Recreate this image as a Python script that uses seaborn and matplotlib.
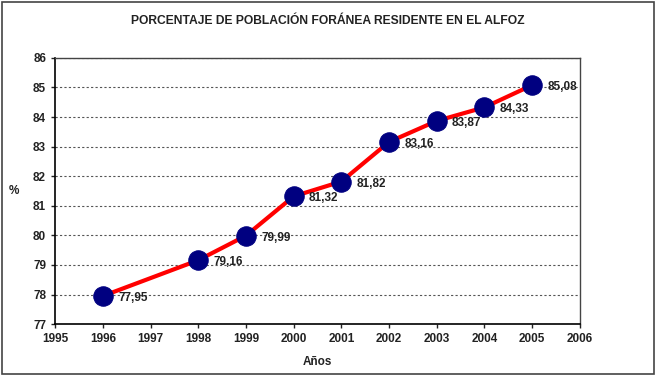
import matplotlib.pyplot as plt
import seaborn as sns
import pandas as pd
from matplotlib.patches import Rectangle

years = [1996, 1998, 1999, 2000, 2001, 2002, 2003, 2004, 2005]
values = [77.95, 79.16, 79.99, 81.32, 81.82, 83.16, 83.87, 84.33, 85.08]
labels = ["77,95", "79,16", "79,99", "81,32", "81,82", "83,16", "83,87", "84,33", "85,08"]

df = pd.DataFrame({"year": years, "value": values})

sns.set_theme(style="white")
plt.rcParams["font.family"] = ["Liberation Sans", "DejaVu Sans"]

fig = plt.figure(figsize=(6.56, 3.76), dpi=100)
ax = fig.add_axes([0.084, 0.138, 0.8, 0.708])

sns.lineplot(data=df, x="year", y="value", ax=ax, color="#ff0000", linewidth=3,
             marker="o", markersize=14, markerfacecolor="#000080",
             markeredgecolor="#000080", zorder=3)

for x, y, t in zip(years, values, labels):
    ax.annotate(t, (x, y), xytext=(11, -1.5), textcoords="offset points",
                fontsize=8.5, fontweight="bold", color="#222222", va="center", ha="left",
                zorder=4, annotation_clip=False)

ax.set_xlim(1995, 2006)
ax.set_ylim(77, 86)
ax.set_xticks(range(1995, 2007))
ax.set_yticks(range(77, 87))
ax.yaxis.grid(True, linestyle=(0, (2, 2)), color="#555555", linewidth=0.8)
ax.set_axisbelow(True)
ax.tick_params(axis="both", labelsize=8.5, length=3, width=1, direction="out",
               bottom=True, left=True, colors="#222222")
for lbl in ax.get_xticklabels() + ax.get_yticklabels():
    lbl.set_fontweight("bold")
for s in ["left", "bottom"]:
    ax.spines[s].set_color("black")
    ax.spines[s].set_linewidth(1.2)
for s in ["top", "right"]:
    ax.spines[s].set_color("#444444")
    ax.spines[s].set_linewidth(1)

ax.set_xlabel("Años", fontsize=8.5, fontweight="bold", color="#222222", labelpad=8)
ax.set_ylabel("%", fontsize=8.5, fontweight="bold", color="#222222", rotation=0,
              labelpad=14, va="center")

fig.text(0.5, 0.945, "PORCENTAJE DE POBLACIÓN FORÁNEA RESIDENTE EN EL ALFOZ",
         ha="center", va="center", fontsize=8.7, fontweight="bold", color="#222222")

fig.patches.append(Rectangle((0.003, 0.004), 0.994, 0.99, transform=fig.transFigure,
                             fill=False, edgecolor="#444444", linewidth=1.2))

fig.savefig("out.png", dpi=100)
